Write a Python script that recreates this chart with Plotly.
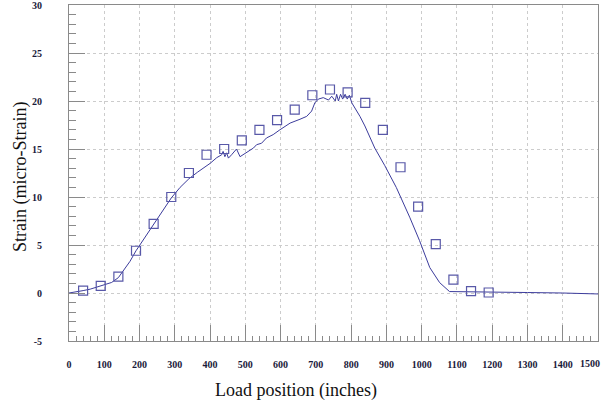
import plotly.graph_objects as go

# Measured strain (continuous trace)
line_x = [0, 20, 40, 60, 88, 110, 121, 140, 163, 173, 190, 215, 240, 265, 290, 315, 340, 365,
          381, 400, 419, 433, 437, 442, 447, 452, 461, 471, 475, 485, 494, 504, 523, 532, 546,
          560, 579, 598, 627, 655, 674, 688, 697, 707, 721, 736, 745, 755, 759, 764, 770, 776,
          783, 789, 795, 802, 811, 825, 839, 867, 895, 928, 966, 994, 1023, 1051, 1079, 1120,
          1200, 1300, 1400, 1500]
line_y = [0, 0.1, 0.25, 0.4, 0.75, 0.95, 1.1, 1.6, 2.7, 3.3, 4.4, 5.8, 7.1, 8.6, 9.9, 11.0, 11.9, 12.6,
          13.0, 13.5, 14.1, 14.4, 14.75, 14.2, 14.6, 14.05, 14.4, 14.9, 15.0, 14.2, 14.4, 14.6, 15.1, 15.45, 15.6,
          16.15, 16.5, 17.0, 17.7, 18.1, 18.4, 18.95, 19.8, 20.2, 20.35, 20.1, 20.5, 20.0, 20.7, 20.0, 20.7, 20.2,
          20.7, 20.2, 20.6, 19.8, 19.3, 18.4, 17.4, 15.1, 13.3, 11.0, 7.9, 5.45, 2.65, 1.08, 0.15, 0.12,
          0.1, 0.05, 0.0, -0.1]

# Model points (open squares)
sq_x = [40, 90, 140, 190, 240, 290, 340, 390, 440, 490, 540, 590, 640, 690, 740, 790, 840, 890,
        940, 990, 1040, 1090, 1140, 1190]
sq_y = [0.25, 0.75, 1.7, 4.4, 7.2, 10.0, 12.5, 14.4, 15.0, 15.9, 17.0, 18.0, 19.1, 20.6, 21.2, 20.9,
        19.8, 17.0, 13.1, 9.0, 5.1, 1.4, 0.2, 0.05]

x_ticks = list(range(0, 1501, 100))
y_ticks = list(range(-5, 31, 5))
# last x label is drawn separately, right-aligned, so it stays inside the page
x_labels = [str(v) for v in x_ticks[:-1]] + [""]
last_x_label = str(x_ticks[-1])

tick_font = dict(family="Liberation Serif", size=10, color="#1a1a3a", weight="bold")
axis_grey = "#8a8a8a"
grid_grey = "#cccccc"

fig = go.Figure()
fig.add_trace(go.Scatter(x=line_x, y=line_y, mode="lines",
                         line=dict(color="#3c3c9c", width=1), showlegend=False))
fig.add_trace(go.Scatter(x=sq_x, y=sq_y, mode="markers",
                         marker=dict(symbol="square-open", size=9, color="#5858a8",
                                     line=dict(width=1.2, color="#5858a8")),
                         showlegend=False))

fig.update_layout(
    width=603, height=405,
    margin=dict(l=69, r=5, t=5, b=64),
    paper_bgcolor="white", plot_bgcolor="white",
    xaxis=dict(range=[0, 1500], tickvals=x_ticks, ticktext=x_labels,
               showline=True, mirror=True, linecolor=axis_grey, linewidth=1,
               ticks="inside", ticklen=16, tickcolor=axis_grey, tickwidth=1,
               showgrid=True, gridcolor=grid_grey, griddash="dot", gridwidth=1,
               zeroline=False, tickfont=tick_font, ticklabelstandoff=14,
               ticklabeloverflow="allow", automargin=False,
               minor=dict(dtick=20, ticks="inside", ticklen=5, tickcolor=axis_grey, showgrid=False)),
    yaxis=dict(range=[-5, 30], tickvals=y_ticks, ticktext=[str(v) for v in y_ticks],
               showline=True, mirror=True, linecolor=axis_grey, linewidth=1,
               ticks="inside", ticklen=16, tickcolor=axis_grey, tickwidth=1,
               showgrid=True, gridcolor=grid_grey, griddash="dot", gridwidth=1,
               zeroline=False, tickfont=tick_font, ticklabelstandoff=24,
               ticklabeloverflow="allow", automargin=False,
               minor=dict(dtick=1, ticks="inside", ticklen=7, tickcolor=axis_grey, showgrid=False)),
)

# pixel positions converted to paper coordinates
pw = 603 - 69 - 5
ph = 405 - 5 - 64
fig.add_annotation(text=last_x_label, x=(602 - 69) / pw, y=(405 - 64 - 363) / ph,
                   xref="paper", yref="paper", xanchor="right", yanchor="middle",
                   showarrow=False, font=tick_font)
fig.add_annotation(text="Load position (inches)", x=(296 - 69) / pw, y=(405 - 64 - 390) / ph,
                   xref="paper", yref="paper", xanchor="center", yanchor="middle",
                   showarrow=False, font=dict(family="Liberation Serif", size=18, color="#111111"))
fig.add_annotation(text="Strain (micro-Strain)", x=(20 - 69) / pw, y=(405 - 64 - 177) / ph,
                   xref="paper", yref="paper", xanchor="center", yanchor="middle",
                   showarrow=False, textangle=-90,
                   font=dict(family="Liberation Serif", size=18, color="#111111"))

fig.write_html("out.html")
